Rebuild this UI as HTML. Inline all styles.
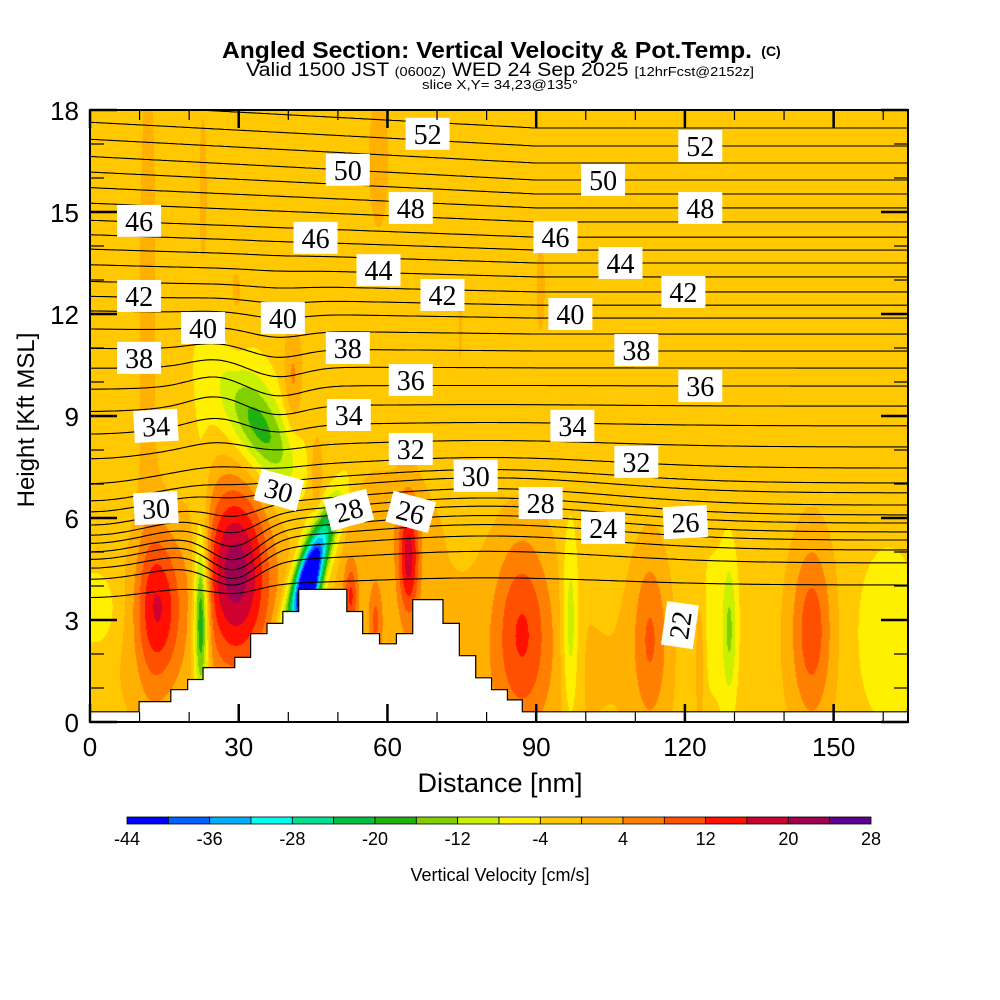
<!DOCTYPE html>
<html><head><meta charset="utf-8">
<style>
body{margin:0;background:#fff;width:1000px;height:1000px;overflow:hidden;position:relative;font-family:"Liberation Sans",sans-serif;}
#fld{position:absolute;left:90px;top:110px;}
#ov{position:absolute;left:0;top:0;}
</style></head><body>
<canvas id="fld" width="818" height="612"></canvas>
<svg id="ov" width="1000" height="1000" xmlns="http://www.w3.org/2000/svg">
<g text-anchor="middle" fill="#000">
<text x="487" y="58" font-size="23" font-weight="bold" textLength="530" lengthAdjust="spacingAndGlyphs">Angled Section: Vertical Velocity &amp; Pot.Temp.</text>
<text x="771" y="56" font-size="14" font-weight="bold">(C)</text>
<text x="500" y="76" font-size="19" textLength="508" lengthAdjust="spacingAndGlyphs">Valid 1500 JST <tspan font-size="13">(0600Z)</tspan> WED 24 Sep 2025 <tspan font-size="13">[12hrFcst@2152z]</tspan></text>
<text x="500" y="89" font-size="13" textLength="156" lengthAdjust="spacingAndGlyphs">slice X,Y= 34,23@135°</text>
</g>
<g id="contours"></g>
<g id="terrain"></g>
<g id="labels"></g>
<g id="axes"></g>
<text x="500" y="792" font-size="27" text-anchor="middle">Distance [nm]</text>
<text transform="translate(34,420) rotate(-90)" font-size="24" text-anchor="middle">Height [Kft MSL]</text>
<g id="cbar"></g>
<text x="500" y="881" font-size="18" text-anchor="middle">Vertical Velocity [cm/s]</text>
</svg>
<script>
// ---- data ----
const levels=[-44,-40,-36,-32,-28,-24,-20,-16,-12,-8,-4,0,4,8,12,16,20,24,28];
const colors=["#0000FF","#0060FF","#00B0FF","#00FFF0","#00E090","#00C040","#20B010","#80D000","#C8F000","#FFF000","#FFC800","#FFB000","#FF8000","#FF5000","#FF1000","#D00030","#A00050","#600090"];
const cbarLabels=[-44,-36,-28,-20,-12,-4,4,12,20,28];
const bgValue=-2;
// velocity cells: x nm, z kft, sx, sz, amplitude cm/s, slope
const wCx=[60,11.7,22.8,58.2,90.9,74.7,29.4,40.9,34.4,32,13.9,1,22.4,22.4,29.4,44.5,64.3,52.6,57.6,45.7,58,87.2,96.9,113,123,129,126,145.6,161,44.0];
const wCz=[1.5,12,15.5,16.5,12.8,11.6,12,10.1,8.6,9,3.4,3.3,3.0,4.5,4.5,4.5,4.8,3.7,3,7.3,6,2.7,2.8,2.5,1.8,2.7,2.5,2.7,2.5,3.7];
const wSx=[45,1.8,0.8,2,0.9,0.4,2,1.3,5,7,3.2,3,1.0,1.5,4.8,3.8,1.5,1,1,0.8,9,4,1.2,2.5,0.6,1,4,3,5,1.8];
const wSz=[2.5,8,2.5,2,1.4,1.2,1.6,1.1,0.9,1.6,1.6,0.8,1.6,3,1.9,0.7,1.2,0.7,0.8,0.8,1.2,2,2,1.8,1.3,1.4,2.5,1.9,2,0.8];
const wAmp=[3.5,3,3,3.2,3,2.8,3,7,-12,-5,16,-7,-20,-5,23,-36,17,12,8,6,3.5,12,-10,9,7,-9,-4,12,-5,-32];
const wSlope=[0,0,0,0,0,0,0,0,0.15,0.15,0,0,0,0,0,-0.3,0,0,0,0,0,0,0,0,0,0,0,0,0,-0.2];
// potential temperature
const thetaLevels=[22,23,24,25,26,27,28,29,30,31,32,33,34,35,36,37,38,39,40,41,42,43,44,45,46,47,48,49,50,51,52,53];
const thetaBaseZ=[4.03,4.68,5.06,5.35,5.59,5.85,6.09,6.38,6.74,7.03,7.47,8.09,8.71,9.29,9.88,10.41,10.91,11.41,11.88,12.26,12.65,13.09,13.5,13.88,14.26,14.71,15.12,15.53,15.94,16.44,16.94,17.47];
const dCx=[0,29,80,25,38];
const dCz=[6,5.3,6,9.5,10];
const dSx=[12,5,25,5,5];
const dSz=[2,0.8,1.5,1.2,1.5];
const dAmp=[-0.6,-0.9,0.5,0.3,-0.3];
const labVal=[52,52,50,50,48,48,46,46,46,44,44,42,42,42,40,40,40,38,38,38,36,36,34,34,34,32,32,30,30,30,28,28,26,26,24,22];
const labX=[68.1,123.1,52,103.5,64.7,123.1,9.9,45.5,93.9,58.2,107,9.9,71.1,119.7,22.8,38.9,96.9,9.9,52,110.2,64.7,123.1,13.3,52.2,97.3,64.7,110.2,13.3,38.1,77.8,52.2,90.9,64.7,120.1,103.5,119];
const labZ=[17.3,16.94,16.24,15.94,15.12,15.12,14.74,14.24,14.26,13.29,13.5,12.53,12.56,12.65,11.59,11.88,12.0,10.71,11.0,10.94,10.06,9.88,8.71,9.03,8.71,8.03,7.65,6.29,6.82,7.24,6.24,6.44,6.18,5.88,5.71,2.85];
const labRot=[0,0,0,0,0,0,0,0,0,0,0,0,0,0,0,0,0,0,0,0,0,0,-3,0,0,0,0,-3,15,0,-15,0,15,-3,0,-82];
// terrain steps: start nm, height kft
const terX=[0,9.9,16.3,19.7,22.8,29.2,32.4,35.7,38.9,42.1,51.8,55.0,58.4,61.8,65.1,71.2,74.5,77.8,81.0,84.2,87.2];
const terZ=[0.3,0.6,0.95,1.25,1.6,1.9,2.6,2.9,3.25,3.9,3.25,2.6,2.3,2.6,3.6,2.9,1.95,1.3,0.95,0.65,0.3];
const xTicks=[0,30,60,90,120,150];
const yTicks=[0,3,6,9,12,15,18];

// ---- axes functions ----
const X0=90,X1=908,Y0=722,Y1=110,XMAX=165,ZMAX=18;
const sx=v=>X0+(v/XMAX)*(X1-X0);
const sy=v=>Y0-(v/ZMAX)*(Y0-Y1);
const NS="http://www.w3.org/2000/svg";
function mk(tag,attrs,parent){const e=document.createElementNS(NS,tag);for(const k in attrs)e.setAttribute(k,attrs[k]);parent.appendChild(e);return e;}

// ---- field ----
function wval(x,z){let v=bgValue;for(let i=0;i<wAmp.length;i++){const u=(x-wCx[i])/wSx[i];const w=(z-wCz[i]+wSlope[i]*(x-wCx[i]))/wSz[i];const r=u*u+w*w;if(r<30)v+=wAmp[i]*Math.exp(-r/2);}return v;}
const cv=document.getElementById('fld');const ctx=cv.getContext('2d');
const img=ctx.createImageData(818,612);
const rgb=colors.map(c=>[parseInt(c.substr(1,2),16),parseInt(c.substr(3,2),16),parseInt(c.substr(5,2),16)]);
for(let py=0;py<612;py++){const z=(Y0-(py+110.5))/(Y0-Y1)*ZMAX;
 for(let px=0;px<818;px++){const x=(px+0.5)/(X1-X0)*XMAX;const v=wval(x,z);
  let b=0;while(b<colors.length-1&&v>=levels[b+1])b++;
  const c=rgb[b];const k=(py*818+px)*4;img.data[k]=c[0];img.data[k+1]=c[1];img.data[k+2]=c[2];img.data[k+3]=255;}}
ctx.putImageData(img,0,0);

// ---- isentropes ----
function dz(x,zb){let d=Math.min(1,Math.max(0,(zb-10)/6))*0.7*Math.max(0,1-x/90);
 for(let i=0;i<dAmp.length;i++){const u=(x-dCx[i])/dSx[i],w=(zb-dCz[i])/dSz[i];d+=dAmp[i]*Math.exp(-(u*u+w*w)/2);}return d;}
const cg=document.getElementById('contours');
thetaLevels.forEach((t,i)=>{let pts=[];for(let x=0;x<=XMAX;x+=0.5){const z=thetaBaseZ[i]+dz(x,thetaBaseZ[i]);pts.push(sx(x).toFixed(1)+','+sy(Math.min(z,ZMAX)).toFixed(1));}
 const p=mk('polyline',{points:pts.join(' '),fill:'none',stroke:'#000','stroke-width':1.1},cg);
 
 });

// ---- terrain ----
const tg=document.getElementById('terrain');
let tp=[sx(0)+','+sy(0)];
for(let i=0;i<terX.length;i++){const xe=i+1<terX.length?terX[i+1]:XMAX;tp.push(sx(terX[i])+','+sy(terZ[i]));tp.push(sx(xe)+','+sy(terZ[i]));}
tp.push(sx(XMAX)+','+sy(0));
const tpoly=mk('polygon',{points:tp.join(' '),fill:'#fff',stroke:'#000','stroke-width':1.2},tg);



// ---- labels ----
const lg=document.getElementById('labels');
labVal.forEach((v,i)=>{const g=mk('g',{transform:`translate(${sx(labX[i])},${sy(labZ[i])}) rotate(${labRot[i]})`},lg);
 
 
 mk('rect',{x:-22,y:-16,width:44,height:32,fill:'#fff'},g);
 const t=mk('text',{x:0,y:10,'font-size':28,'text-anchor':'middle','font-family':'"Liberation Serif",serif'},g);t.textContent=v;});

// ---- axes ----
const ag=document.getElementById('axes');
const fr=mk('rect',{x:X0,y:Y1,width:X1-X0,height:Y0-Y1,fill:'none',stroke:'#000','stroke-width':2},ag);


for(let v=0;v<=XMAX;v+=10){const maj=v%30===0;const L=maj?18:10;
 mk('line',{x1:sx(v),x2:sx(v),y1:Y0,y2:Y0-L,stroke:'#000','stroke-width':maj?2.5:1.2},ag);
 mk('line',{x1:sx(v),x2:sx(v),y1:Y1,y2:Y1+L,stroke:'#000','stroke-width':maj?2.5:1.2},ag);}
for(let v=0;v<=ZMAX;v+=1){const maj=v%3===0;const L=maj?27:14;
 mk('line',{x1:X0,x2:X0+L,y1:sy(v),y2:sy(v),stroke:'#000','stroke-width':maj?2.5:1.2},ag);
 mk('line',{x1:X1,x2:X1-L,y1:sy(v),y2:sy(v),stroke:'#000','stroke-width':maj?2.5:1.2},ag);}
xTicks.forEach(v=>{const t=mk('text',{x:sx(v),y:756,'font-size':26,'text-anchor':'middle'},ag);t.textContent=v;
 
 });
yTicks.forEach(v=>{const t=mk('text',{x:79,y:sy(v)+10,'font-size':26,'text-anchor':'end'},ag);t.textContent=v;
 
 });

// ---- colorbar ----
const cb=document.getElementById('cbar');const CB0=127,CB1=871,CBW=(CB1-CB0)/colors.length;
colors.forEach((c,i)=>{const r=mk('rect',{x:CB0+i*CBW,y:817,width:CBW,height:7,fill:c,stroke:'#000','stroke-width':0.8},cb);
 
 });
cbarLabels.forEach(v=>{const i=levels.indexOf(v);const t=mk('text',{x:CB0+i*CBW,y:845,'font-size':18,'text-anchor':'middle'},cb);t.textContent=v;
 
 });
</script>
</body></html>
